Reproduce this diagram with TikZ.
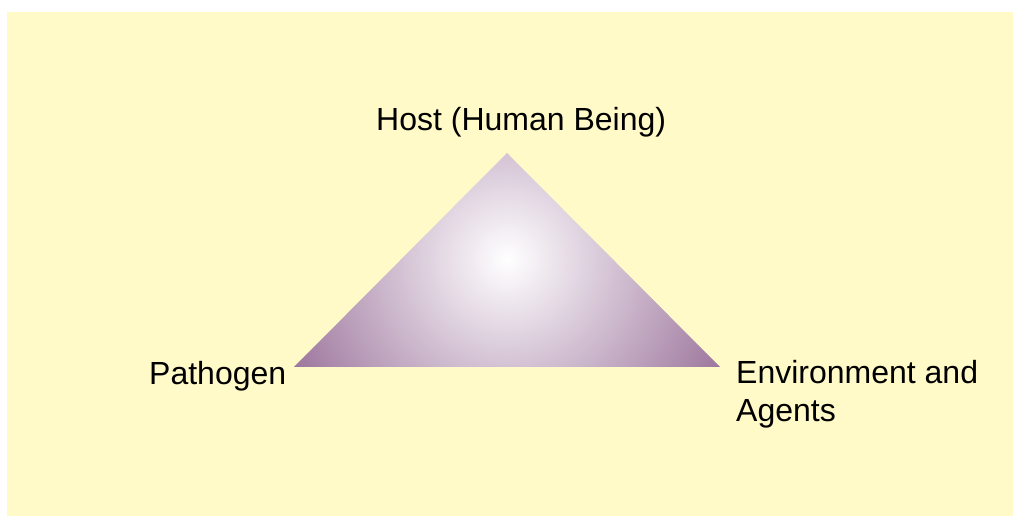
\documentclass[tikz,border=0pt]{standalone}
\usepackage{fontspec}
\setmainfont{Liberation Sans}
\definecolor{bgyellow}{RGB}{255,250,200}
\definecolor{tripurple}{RGB}{155,115,155}
\begin{document}
\begin{tikzpicture}[x=1pt,y=1pt,
  lbl/.style={font=\fontsize{32}{38}\selectfont, inner sep=0pt, text=black}]
\useasboundingbox (0,0) rectangle (1013,516);
\fill[bgyellow] (7,0) rectangle (1013,504);
\coordinate (apex) at (507,363);
\coordinate (left) at (294,149);
\coordinate (right) at (720,149);
\coordinate (glow) at (507,257);
\begin{scope}
  \clip (apex) -- (left) -- (right) -- cycle;
  \shade[inner color=white, outer color=tripurple] (glow) circle (245);
\end{scope}
\node[lbl, anchor=base west] (host) at (376,385) {Host (Human Being)};
\node[lbl, anchor=base west] (path) at (149,131) {Pathogen};
\node[lbl, anchor=north west, align=left] (env) at (736,156.3) {Environment and\\Agents};
\end{tikzpicture}
\end{document}
